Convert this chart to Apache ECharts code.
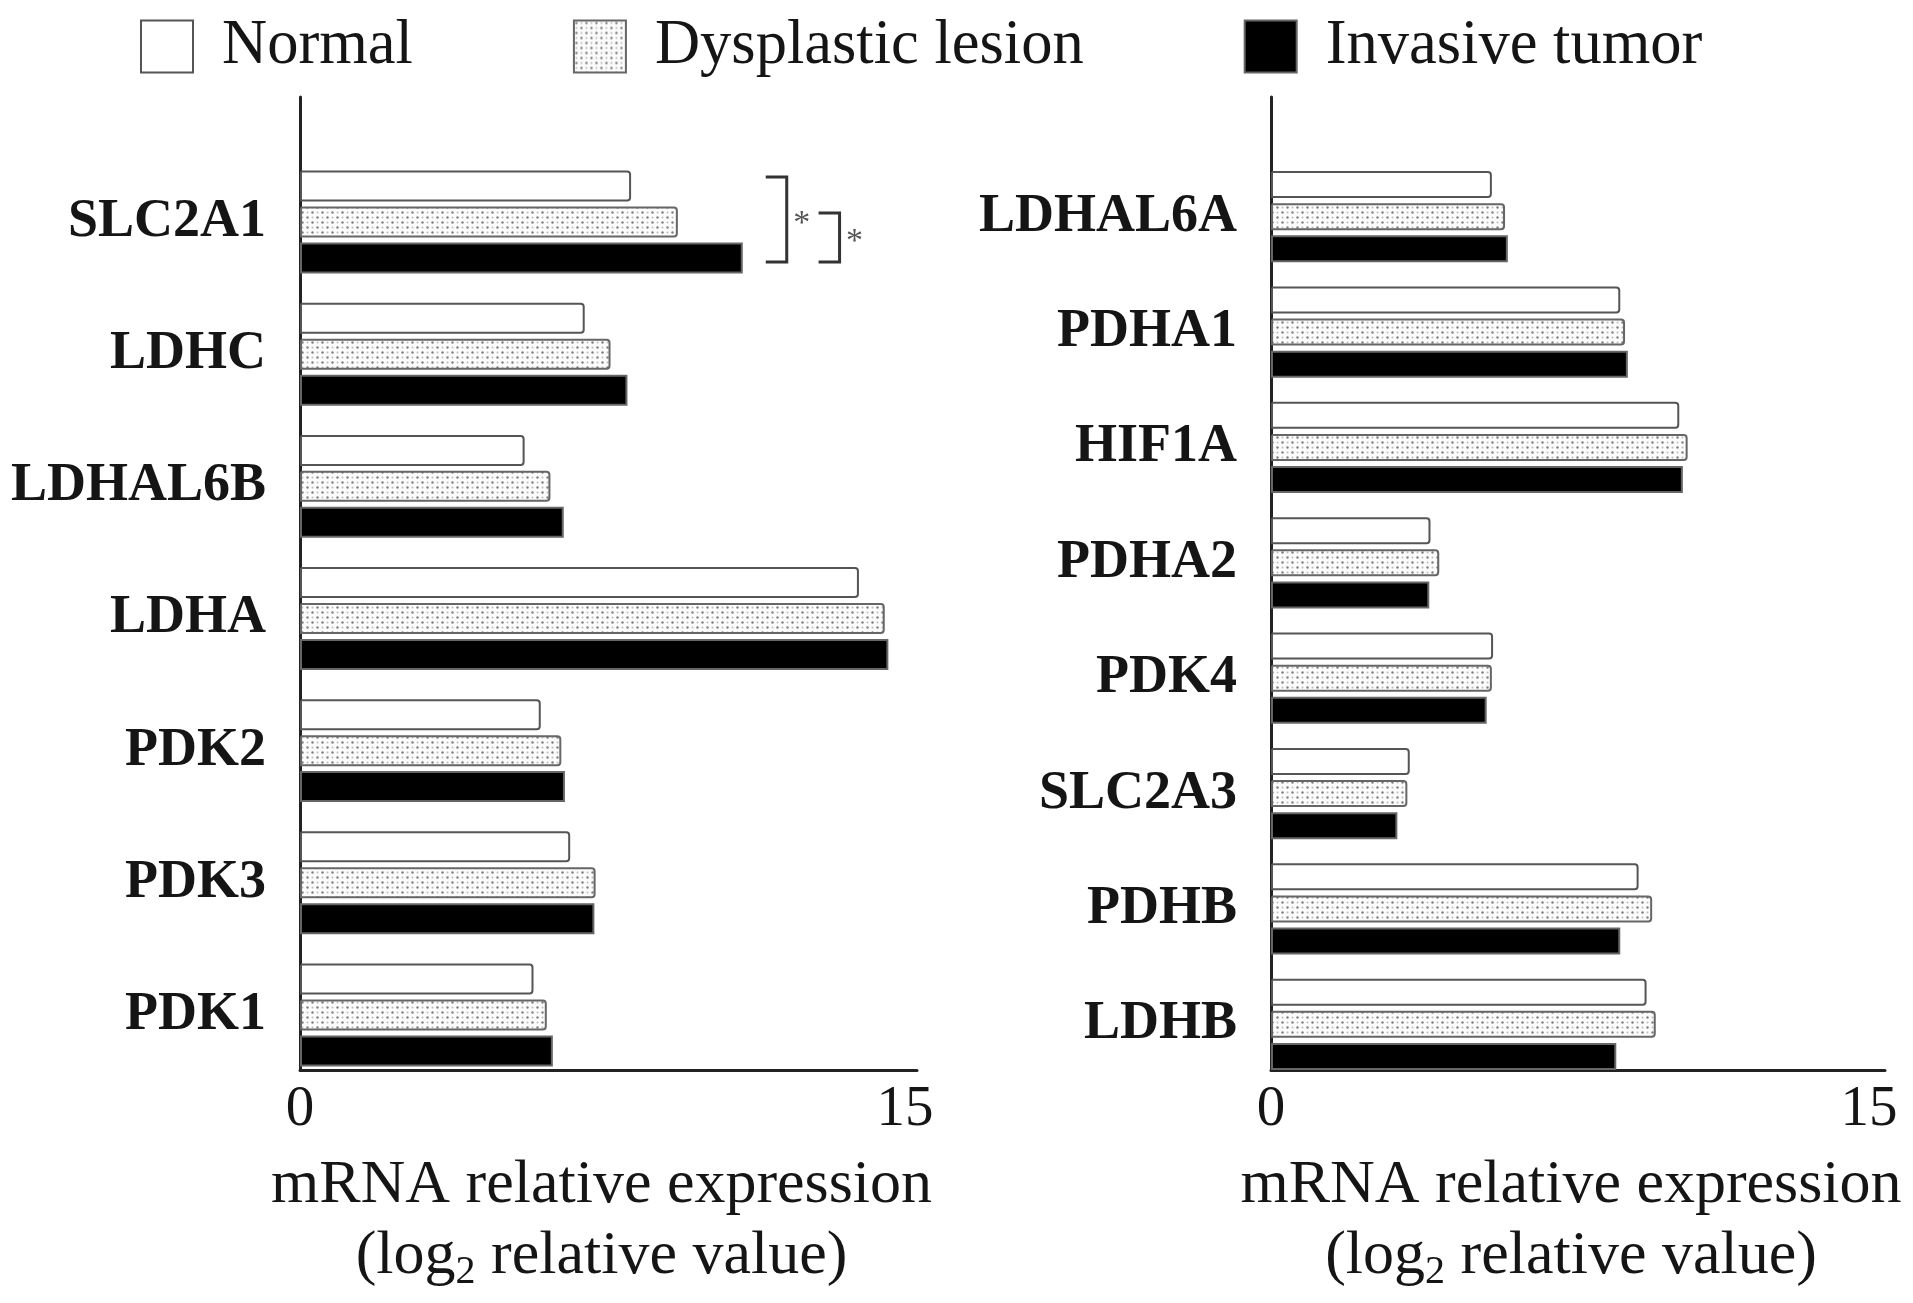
<!DOCTYPE html>
<html><head><meta charset="utf-8">
<script src="https://cdn.jsdelivr.net/npm/echarts@6/dist/echarts.min.js"></script>
<style>html,body{margin:0;padding:0;background:#fff}#c{width:1913px;height:1303px}</style>
</head><body><div id="c"></div>
<script>
// ---- data ----
const seriesNames = ['Normal', 'Dysplastic lesion', 'Invasive tumor'];
const leftGenes = ['SLC2A1', 'LDHC', 'LDHAL6B', 'LDHA', 'PDK2', 'PDK3', 'PDK1'];
const leftNormal = [8.21, 7.06, 5.57, 13.86, 5.97, 6.70, 5.79];
const leftDysplastic = [9.37, 7.70, 6.21, 14.50, 6.48, 7.33, 6.12];
const leftInvasive = [10.98, 8.12, 6.54, 14.59, 6.57, 7.30, 6.27];
const rightGenes = ['LDHAL6A', 'PDHA1', 'HIF1A', 'PDHA2', 'PDK4', 'SLC2A3', 'PDHB', 'LDHB'];
const rightNormal = [5.54, 8.76, 10.24, 4.00, 5.57, 3.48, 9.22, 9.42];
const rightDysplastic = [5.87, 8.88, 10.45, 4.22, 5.54, 3.42, 9.56, 9.65];
const rightInvasive = [5.94, 8.95, 10.33, 3.97, 5.41, 3.17, 8.76, 8.66];
const xTickValues = [0, 15];
const axisTitle = 'mRNA relative expression\n(log{sub|2} relative value)';
// significance brackets: [x value, category index, from series index, to series index]
const sigBrackets = [[12.07, 0, 0, 2], [13.38, 0, 1, 2]];
const sigLabel = '*';

// ---- styles ----
const FONT = '"Liberation Serif", "DejaVu Serif", serif';
const TXT = '#151515';
const LINE = '#222';

function dotPattern() {
  const c = document.createElement('canvas');
  c.width = 10; c.height = 10;
  const g = c.getContext('2d');
  g.fillStyle = '#fbfbfb'; g.fillRect(0, 0, 10, 10);
  g.fillStyle = '#808080';
  [[2.5, 2.5], [7.5, 7.5]].forEach(p => { g.beginPath(); g.arc(p[0], p[1], 1.2, 0, Math.PI * 2); g.fill(); });
  g.fillStyle = '#bdbdbd';
  [[7.5, 2.5], [2.5, 7.5]].forEach(p => { g.beginPath(); g.arc(p[0], p[1], 1.0, 0, Math.PI * 2); g.fill(); });
  return c;
}
const pattern = { image: dotPattern(), repeat: 'repeat' };

const barStyles = [
  { color: '#ffffff', borderColor: '#555', borderWidth: 2, borderRadius: [0, 3, 3, 0] },
  { color: pattern, borderColor: '#666', borderWidth: 2, borderRadius: [0, 3, 3, 0] },
  { color: '#000000', borderColor: '#666', borderWidth: 2 }
];

const panels = [
  { genes: leftGenes, vals: [leftNormal, leftDysplastic, leftInvasive], left: 300, width: 617, top: 156, bottom: 222, max: 15.3, barWidth: 31, barGap: '16%' },
  { genes: rightGenes, vals: [rightNormal, rightDysplastic, rightInvasive], left: 1271, width: 614, top: 159, bottom: 221, max: 15.4, barWidth: 27, barGap: '19%' }
];

const grid = [], xAxis = [], yAxis = [], series = [];
panels.forEach((p, i) => {
  grid.push({ left: p.left, width: p.width, top: p.top, bottom: p.bottom, outerBoundsMode: 'none', containLabel: false });
  xAxis.push({ gridIndex: i, type: 'value', min: 0, max: p.max, show: false });
  yAxis.push({
    gridIndex: i, type: 'category', data: p.genes, inverse: true,
    axisLine: { show: false }, axisTick: { show: false }, splitLine: { show: false },
    axisLabel: { fontFamily: FONT, fontWeight: 'bold', fontSize: 54, color: TXT, margin: 34, padding: [8, 0, 0, 0] }
  });
  p.vals.forEach((v, k) => {
    series.push({
      name: seriesNames[k], type: 'bar', xAxisIndex: i, yAxisIndex: i, data: v,
      barWidth: p.barWidth, barGap: p.barGap, itemStyle: barStyles[k], silent: true, animation: false
    });
  });
});
// axis frames
panels.forEach((p, i) => {
  grid.push({ left: p.left, width: p.width, top: 97, bottom: 233, outerBoundsMode: 'none', containLabel: false });
  xAxis.push({
    gridIndex: 2 + i, type: 'value', min: 0, max: p.max, interval: 15,
    axisLine: { show: true, lineStyle: { color: LINE, width: 3 } },
    axisTick: { show: false }, splitLine: { show: false },
    axisLabel: { customValues: xTickValues, fontFamily: FONT, fontSize: 57, color: TXT, margin: 12 },
    name: axisTitle, nameLocation: 'middle', nameGap: 80,
    nameTextStyle: {
      fontFamily: FONT, fontSize: 62, color: TXT, lineHeight: 71, align: 'center', padding: [0, 14, 0, 0],
      rich: { sub: { fontFamily: FONT, fontSize: 40, color: TXT, lineHeight: 71, verticalAlign: 'bottom' } }
    }
  });
  yAxis.push({
    gridIndex: 2 + i, type: 'value', min: 0, max: 1,
    axisLine: { show: true, onZero: false, lineStyle: { color: LINE, width: 3 } },
    axisTick: { show: false }, axisLabel: { show: false }, splitLine: { show: false }
  });
});

// significance brackets drawn in the left bar grid
series.push({
  type: 'custom', xAxisIndex: 0, yAxisIndex: 0, data: sigBrackets, silent: true, animation: false, z: 5,
  renderItem: function (params, api) {
    const pt = api.coord([api.value(0), api.value(1)]);
    const step = panels[0].barWidth * 1.16;
    const y1 = pt[1] + (api.value(2) - 1) * step - 9;
    const y2 = pt[1] + (api.value(3) - 1) * step + 4;
    const x = pt[0], w = 21;
    return {
      type: 'group', children: [
        { type: 'polyline', shape: { points: [[x - w, y1], [x, y1], [x, y2], [x - w, y2]] }, style: { stroke: '#333', lineWidth: 3, fill: null } },
        { type: 'text', style: { text: sigLabel, x: x + 15, y: (y1 + y2) / 2 + 5, fontSize: 34, fontFamily: FONT, fill: '#555', align: 'center', verticalAlign: 'middle' } }
      ]
    };
  }
});

const chart = echarts.init(document.getElementById('c'), null, { renderer: 'canvas' });
chart.setOption({
  backgroundColor: '#fff',
  animation: false,
  legend: {
    data: seriesNames, left: 135, top: 10, icon: 'rect', itemWidth: 52, itemHeight: 52, itemGap: 160,
    textStyle: { fontFamily: FONT, fontSize: 62.5, color: TXT, padding: [0, 0, 0, 24] },
    selectedMode: false
  },
  grid: grid, xAxis: xAxis, yAxis: yAxis, series: series
});
</script>
</body></html>
